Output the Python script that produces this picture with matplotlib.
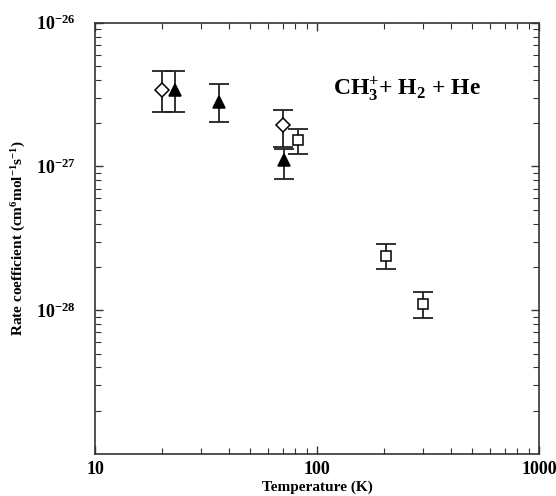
import matplotlib
matplotlib.use("Agg")
import matplotlib.pyplot as plt
from matplotlib.ticker import LogLocator, NullFormatter, FixedLocator, FixedFormatter

plt.rcParams['font.family'] = ['Liberation Serif', 'DejaVu Serif']
plt.rcParams['font.weight'] = 'bold'
plt.rcParams['mathtext.fontset'] = 'custom'
plt.rcParams['mathtext.rm'] = 'Liberation Serif:bold'
plt.rcParams['mathtext.it'] = 'Liberation Serif:bold'
plt.rcParams['mathtext.bf'] = 'Liberation Serif:bold'

# Data: open diamonds
dia_T = [20, 70]
dia_k = [3.42e-27, 1.95e-27]
dia_hi = [4.63e-27, 2.48e-27]
dia_lo = [2.40e-27, 1.37e-27]

# filled triangles
tri_T = [23, 36, 71]
tri_k = [3.38e-27, 2.83e-27, 1.11e-27]
tri_hi = [4.63e-27, 3.76e-27, 1.33e-27]
tri_lo = [2.40e-27, 2.05e-27, 8.2e-28]

# open squares
sq_T = [82, 205, 300]
sq_k = [1.52e-27, 2.40e-28, 1.108e-28]
sq_hi = [1.83e-27, 2.90e-28, 1.33e-28]
sq_lo = [1.23e-27, 1.93e-28, 8.81e-29]

fig = plt.figure(figsize=(5.56, 4.96), dpi=100)
ax = fig.add_axes([0.1709, 0.0847, 0.7985, 0.8695])
ax.set_xscale('log')
ax.set_yscale('log')
ax.set_xlim(10, 1000)
ax.set_ylim(1e-29, 1e-26)

def draw(T, k, hi, lo, marker, face, ms):
    yerr = [[a - b for a, b in zip(k, lo)], [b - a for a, b in zip(k, hi)]]
    ax.errorbar(T, k, yerr=yerr, fmt='none', ecolor='#222222', elinewidth=1.3,
                capsize=7.2, capthick=1.3, zorder=2)
    ax.plot(T, k, linestyle='none', marker=marker, markersize=ms,
            markerfacecolor=face, markeredgecolor='black', markeredgewidth=1.1, zorder=3)

draw(dia_T, dia_k, dia_hi, dia_lo, 'D', 'white', 7.0)
draw(tri_T, tri_k, tri_hi, tri_lo, '^', 'black', 8.5)
draw(sq_T, sq_k, sq_hi, sq_lo, 's', 'white', 6.5)

ax.xaxis.set_major_locator(FixedLocator([10, 100, 1000]))
ax.xaxis.set_major_formatter(FixedFormatter(['10', '100', '1000']))
ax.xaxis.set_minor_locator(LogLocator(base=10, subs=range(2, 10)))
ax.xaxis.set_minor_formatter(NullFormatter())
ax.yaxis.set_major_locator(FixedLocator([1e-28, 1e-27, 1e-26]))
ax.yaxis.set_major_formatter(FixedFormatter([r'$10^{-28}$', r'$10^{-27}$', r'$10^{-26}$']))
ax.yaxis.set_minor_locator(LogLocator(base=10, subs=range(2, 10)))
ax.yaxis.set_minor_formatter(NullFormatter())

ax.tick_params(which='both', direction='in', top=True, right=True, colors='#333333',
               labelcolor='black')
ax.tick_params(which='major', length=6, width=1.0, labelsize=13)
ax.tick_params(axis='x', which='major', pad=5)
ax.tick_params(axis='y', which='major', pad=14)
ax.tick_params(which='minor', length=4, width=0.8)
for s in ax.spines.values():
    s.set_linewidth(1.2)
    s.set_color('#333333')

ax.set_xlabel('Temperature (K)', fontsize=11, fontweight='bold', labelpad=2)
ax.set_ylabel(r'Rate coefficient (cm$^{6}$mol$^{-1}$s$^{-1}$)', fontsize=11,
              fontweight='bold', labelpad=6)

ax.text(0.536, 0.844, r'CH$_3^{+}$+ H$_2$ + He', transform=ax.transAxes,
        fontsize=17, fontweight='bold', ha='left', va='center')

fig.savefig('out.png', dpi=100)
